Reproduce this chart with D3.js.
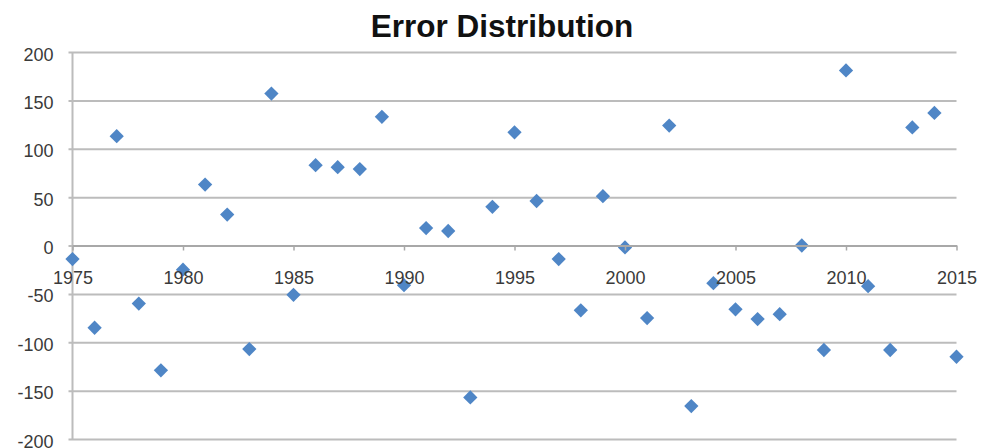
<!DOCTYPE html>
<html>
<head>
<meta charset="utf-8">
<script src="https://cdn.jsdelivr.net/npm/d3@7"></script>
<style>
  html, body { margin: 0; padding: 0; background: #fff; }
  svg { display: block; font-family: "Liberation Sans", Arial, sans-serif; }
</style>
</head>
<body>
<svg id="chart" width="989" height="448"></svg>
<script>
// Forecast error by year
const years = [1975, 1976, 1977, 1978, 1979, 1980, 1981, 1982, 1983, 1984,
               1985, 1986, 1987, 1988, 1989, 1990, 1991, 1992, 1993, 1994,
               1995, 1996, 1997, 1998, 1999, 2000, 2001, 2002, 2003, 2004,
               2005, 2006, 2007, 2008, 2009, 2010, 2011, 2012, 2013, 2014, 2015];
const errors = [-14, -85, 113, -60, -129, -25, 63, 32, -107, 157,
                -51, 83, 81, 79, 133, -41, 18, 15, -157, 40,
                117, 46, -14, -67, 51, -2, -75, 124, -166, -39,
                -66, -76, -71, 0, -108, 181, -42, -108, 122, 137, -115];
const xTicks = [1975, 1980, 1985, 1990, 1995, 2000, 2005, 2010, 2015];
const yTicks = [-200, -150, -100, -50, 0, 50, 100, 150, 200];
const title = "Error Distribution";

(function draw() {
  const svg = d3.select("#chart");
  const plot = { left: 72.5, right: 956.5, top: 52, bottom: 439 };

  const x = d3.scaleLinear().domain([1975, 2015]).range([plot.left, plot.right]);
  const y = d3.scaleLinear().domain([-200, 200]).range([plot.bottom, plot.top]);

  // Horizontal gridlines with small ticks outside the value axis
  const yAxis = d3.axisLeft(y).tickValues(yTicks).tickFormat(d => String(d))
    .tickSize(-(plot.right - plot.left)).tickSizeOuter(0).tickPadding(19);
  const gy = svg.append("g").attr("transform", `translate(${plot.left},0)`).call(yAxis);
  gy.select(".domain").remove();
  gy.selectAll(".tick line")
    .attr("x1", -4)
    .attr("stroke", "#bcbcbc").attr("stroke-width", 2);
  gy.selectAll(".tick text")
    .attr("dy", "0.45em")
    .attr("fill", "#3a3a3a").style("font-size", "18px");

  // Vertical value-axis line
  svg.append("line")
    .attr("x1", plot.left).attr("x2", plot.left)
    .attr("y1", y(200)).attr("y2", y(-200))
    .attr("stroke", "#bcbcbc").attr("stroke-width", 2);

  // Category axis sits on zero
  const xAxis = d3.axisBottom(x).tickValues(xTicks).tickFormat(d => String(d))
    .tickSize(5).tickSizeOuter(0).tickPadding(21);
  const gx = svg.append("g").attr("transform", `translate(0,${y(0)})`).call(xAxis);
  gx.select(".domain").attr("stroke", "#a8a8a8").attr("stroke-width", 2);
  gx.selectAll(".tick line").attr("stroke", "#a8a8a8").attr("stroke-width", 1.5);
  gx.selectAll(".tick text").attr("fill", "#3a3a3a").style("font-size", "18px");

  // Diamond markers
  const diamond = d3.symbol().type(d3.symbolDiamond2).size(130);
  svg.append("g")
    .selectAll("path")
    .data(years.map((yr, i) => ({ yr, v: errors[i] })))
    .join("path")
    .attr("d", diamond)
    .attr("transform", d => `translate(${x(d.yr)},${y(d.v)})`)
    .attr("fill", "#4f86c6");

  // Keep axis labels readable above the markers
  gx.raise();

  svg.append("text")
    .attr("x", 502).attr("y", 37)
    .attr("text-anchor", "middle")
    .style("font-size", "31.5px").style("font-weight", "bold")
    .attr("fill", "#111")
    .text(title);
})();
</script>
</body>
</html>
